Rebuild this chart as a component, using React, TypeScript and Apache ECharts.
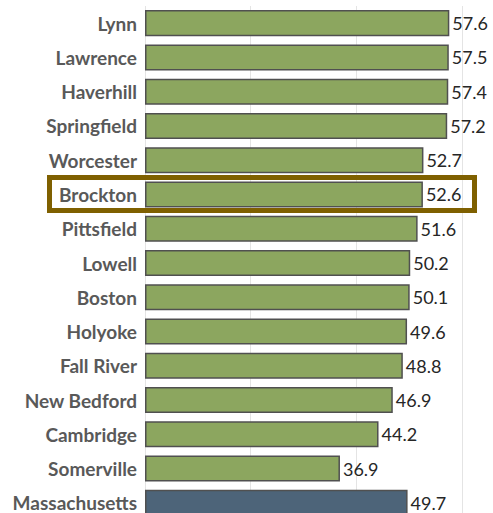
import React, { useEffect, useRef } from "react";
import * as echarts from "echarts";

const categories = [
  "Lynn", "Lawrence", "Haverhill", "Springfield", "Worcester", "Brockton", "Pittsfield",
  "Lowell", "Boston", "Holyoke", "Fall River", "New Bedford", "Cambridge", "Somerville", "Massachusetts",
];
const values = [57.6, 57.5, 57.4, 57.2, 52.7, 52.6, 51.6, 50.2, 50.1, 49.6, 48.8, 46.9, 44.2, 36.9, 49.7];
const stateName = "Massachusetts";

export default function App() {
  const ref = useRef<HTMLDivElement>(null);
  useEffect(() => {
    const chart = echarts.init(ref.current!, null, { renderer: "svg" });
    chart.setOption({
      animation: false,
      grid: { left: 145, right: 31, top: 6, bottom: 20, containLabel: false },
      xAxis: {
        type: "value",
        min: 0,
        max: 60,
        interval: 20,
        axisLabel: { show: false },
        axisLine: { show: false },
        axisTick: { show: false },
        splitLine: { show: true, lineStyle: { color: "#e4e4e4", width: 1 } },
      },
      yAxis: {
        type: "category",
        inverse: true,
        data: categories,
        axisLine: { show: false },
        axisTick: { show: false },
        axisLabel: {
          margin: 8,
          color: "#595959",
          fontFamily: "Lato, 'Open Sans', sans-serif",
          fontWeight: "bold",
          fontSize: 19,
        },
      },
      series: [
        {
          type: "bar",
          barCategoryGap: "24%",
          data: values.map((v, i) => ({
            value: v,
            itemStyle: {
              color: categories[i] === stateName ? "#4d6479" : "#8ca65f",
            },
          })),
          itemStyle: { borderColor: "#505050", borderWidth: 1.5 },
          label: {
            show: true,
            position: "right",
            distance: 3,
            color: "#262626",
            fontFamily: "Lato, 'Open Sans', sans-serif",
            fontSize: 18,
            formatter: (p: any) => p.value.toFixed(1),
          },
        },
      ],
      graphic: [
        {
          type: "rect",
          shape: { x: 49.5, y: 177.5, width: 425, height: 33 },
          style: { fill: "none", stroke: "#7f6000", lineWidth: 5 },
          z: 100,
        },
      ],
    });
    return () => chart.dispose();
  }, []);
  return (
    <div style={{ position: "fixed", left: 0, top: 0, width: 493, height: 513, overflow: "hidden", background: "#fff" }}>
      <div ref={ref} style={{ width: 493, height: 540 }} />
    </div>
  );
}
